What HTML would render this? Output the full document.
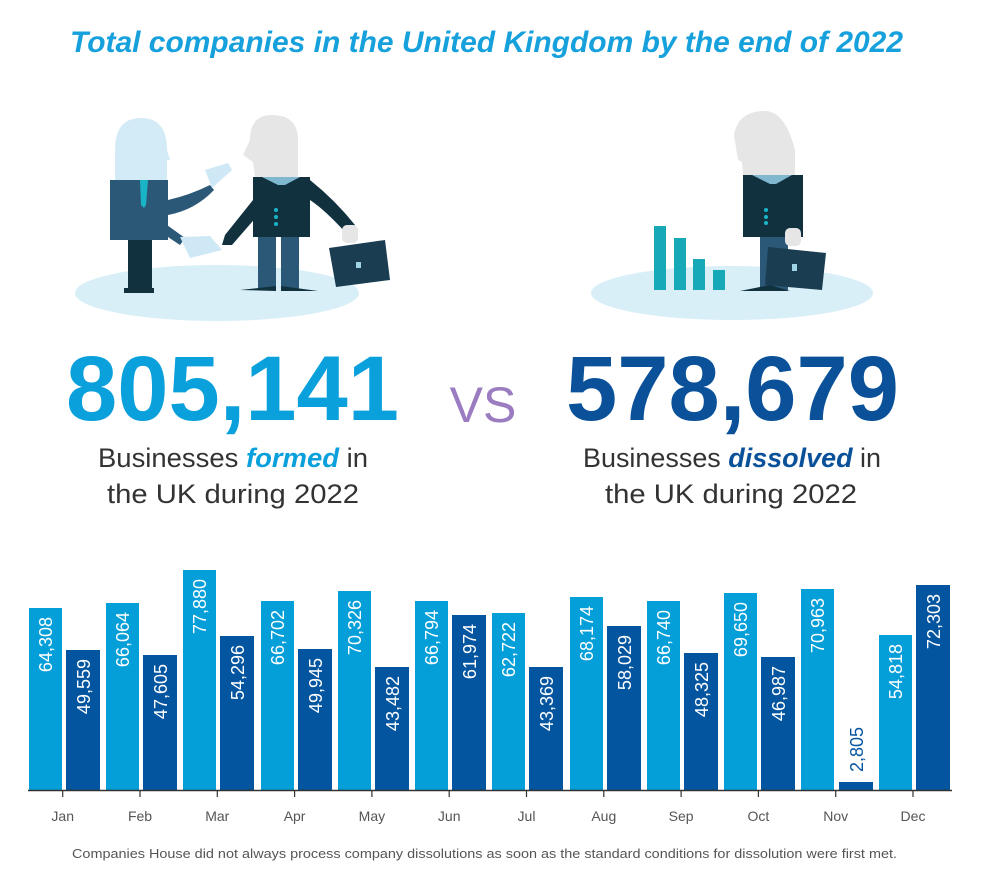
<!DOCTYPE html>
<html><head><meta charset="utf-8"><style>
html,body{margin:0;padding:0;background:#fff;width:988px;height:873px;overflow:hidden}
svg{display:block}
</style></head><body>
<svg width="988" height="873" viewBox="0 0 988 873" xmlns="http://www.w3.org/2000/svg" font-family="Liberation Sans, sans-serif">
<text x="70" y="52" font-size="30" font-weight="bold" font-style="italic" fill="#16a0dc" textLength="833" lengthAdjust="spacingAndGlyphs">Total companies in the United Kingdom by the end of 2022</text>

<!-- left illustration -->
<ellipse cx="217" cy="293" rx="142" ry="28" fill="#d9eff8"/>
<rect x="128" y="238" width="24" height="54" fill="#11313f"/>
<rect x="124" y="288" width="30" height="5" fill="#11313f"/>
<path d="M115 150 Q115 118 141 118 Q167 118 167 150 L170 160 L167 160 L167 180 L115 180 Z" fill="#d3ebf7"/>
<path d="M110 180 L168 180 L168 200 Q190 195 210 185 L214 190 Q195 210 168 215 L168 240 L110 240 Z" fill="#2b5876"/>
<path d="M140 180 L148 180 L146 205 L144 208 L141 205 Z" fill="#19b5c6"/>
<path d="M150 225 L180 245 L185 238 L160 220 Z" fill="#2b5876"/>
<path d="M205 170 L228 163 L232 170 L212 188 Z" fill="#cfe8f6"/>
<path d="M180 237 L210 236 L222 250 L190 258 Z" fill="#cfe8f6"/>
<path d="M243 155 L250 140 Q250 115 272 115 Q298 115 298 140 L298 178 L255 178 L253 162 Z" fill="#e6e6e6"/>
<rect x="253" y="177" width="57" height="60" fill="#12313f"/>
<path d="M262 177 L300 177 L285 185 L278 185 Z" fill="#7fb8cf"/>
<circle cx="276" cy="210" r="2" fill="#19b5c6"/><circle cx="276" cy="217" r="2" fill="#19b5c6"/><circle cx="276" cy="224" r="2" fill="#19b5c6"/>
<path d="M253 200 L225 235 L222 245 L232 245 L258 215 Z" fill="#12313f"/>
<path d="M310 180 Q335 200 355 225 L345 232 Q325 210 310 200 Z" fill="#12313f"/>
<rect x="258" y="237" width="18" height="52" fill="#2b5876"/>
<rect x="281" y="237" width="18" height="52" fill="#2b5876"/>
<path d="M240 290 L276 286 L276 291 Z" fill="#12313f"/><path d="M281 286 L318 291 L281 291 Z" fill="#12313f"/>
<rect x="342" y="225" width="16" height="18" rx="5" fill="#e6e6e6"/>
<path d="M329 248 L385 240 L390 280 L336 287 Z" fill="#1a3d52"/>
<rect x="356" y="262" width="5" height="6" fill="#9fd3e6"/>

<!-- right illustration -->
<ellipse cx="732" cy="293" rx="141" ry="27" fill="#d9eff8"/>
<rect x="654" y="226" width="12" height="64" fill="#17a9b8"/>
<rect x="674" y="238" width="12" height="52" fill="#17a9b8"/>
<rect x="693" y="259" width="12" height="31" fill="#17a9b8"/>
<rect x="713" y="270" width="12" height="20" fill="#17a9b8"/>
<path d="M738 160 L734 135 Q738 111 765 111 Q785 111 795 150 L795 175 L743 175 L742 162 Z" fill="#e6e6e6"/>
<rect x="743" y="175" width="60" height="62" fill="#12313f"/>
<path d="M752 175 L792 175 L776 184 L770 184 Z" fill="#7fb8cf"/>
<circle cx="766" cy="210" r="2" fill="#19b5c6"/><circle cx="766" cy="217" r="2" fill="#19b5c6"/><circle cx="766" cy="223" r="2" fill="#19b5c6"/>
<rect x="760" y="237" width="28" height="53" fill="#2b5876"/>
<path d="M740 291 L770 285 L790 291 Z" fill="#12313f"/>
<rect x="785" y="228" width="16" height="18" rx="5" fill="#e6e6e6"/>
<path d="M768 247 L826 253 L822 290 L765 285 Z" fill="#1a3d52"/>
<rect x="792" y="264" width="5" height="7" fill="#9fd3e6"/>

<!-- big numbers -->
<text x="66" y="420" font-size="92" font-weight="bold" fill="#0aa0dc" textLength="333" lengthAdjust="spacingAndGlyphs">805,141</text>
<text x="483" y="422" text-anchor="middle" font-size="50" fill="#9b7cc0">VS</text>
<text x="566" y="420" font-size="92" font-weight="bold" fill="#0a5199" textLength="333" lengthAdjust="spacingAndGlyphs">578,679</text>
<text x="98" y="467" font-size="27" fill="#333" textLength="270" lengthAdjust="spacingAndGlyphs">Businesses <tspan fill="#0aa0dc" font-weight="bold" font-style="italic">formed</tspan> in</text>
<text x="107" y="503" font-size="27" fill="#333" textLength="252" lengthAdjust="spacingAndGlyphs">the UK during 2022</text>
<text x="583" y="467" font-size="27" fill="#333" textLength="298" lengthAdjust="spacingAndGlyphs">Businesses <tspan fill="#0a5199" font-weight="bold" font-style="italic">dissolved</tspan> in</text>
<text x="605" y="503" font-size="27" fill="#333" textLength="252" lengthAdjust="spacingAndGlyphs">the UK during 2022</text>

<!-- bars -->
<g>
<rect x="29" y="608" width="33" height="182" fill="#049fd9"/><rect x="66" y="650" width="34" height="140" fill="#0455a0"/>
<rect x="106" y="603" width="33" height="187" fill="#049fd9"/><rect x="143" y="655" width="34" height="135" fill="#0455a0"/>
<rect x="183" y="570" width="33" height="220" fill="#049fd9"/><rect x="220" y="636" width="34" height="154" fill="#0455a0"/>
<rect x="261" y="601" width="33" height="189" fill="#049fd9"/><rect x="298" y="649" width="34" height="141" fill="#0455a0"/>
<rect x="338" y="591" width="33" height="199" fill="#049fd9"/><rect x="375" y="667" width="34" height="123" fill="#0455a0"/>
<rect x="415" y="601" width="33" height="189" fill="#049fd9"/><rect x="452" y="615" width="34" height="175" fill="#0455a0"/>
<rect x="492" y="613" width="33" height="177" fill="#049fd9"/><rect x="529" y="667" width="34" height="123" fill="#0455a0"/>
<rect x="570" y="597" width="33" height="193" fill="#049fd9"/><rect x="607" y="626" width="34" height="164" fill="#0455a0"/>
<rect x="647" y="601" width="33" height="189" fill="#049fd9"/><rect x="684" y="653" width="34" height="137" fill="#0455a0"/>
<rect x="724" y="593" width="33" height="197" fill="#049fd9"/><rect x="761" y="657" width="34" height="133" fill="#0455a0"/>
<rect x="801" y="589" width="33" height="201" fill="#049fd9"/><rect x="839" y="782" width="34" height="8" fill="#0455a0"/>
<rect x="879" y="635" width="33" height="155" fill="#049fd9"/><rect x="916" y="585" width="34" height="205" fill="#0455a0"/>
</g>
<g font-size="18" fill="#fff" text-anchor="end">
<text transform="translate(52,617) rotate(-90)">64,308</text>
<text transform="translate(90,659) rotate(-90)">49,559</text>
<text transform="translate(129,612) rotate(-90)">66,064</text>
<text transform="translate(167,664) rotate(-90)">47,605</text>
<text transform="translate(206,579) rotate(-90)">77,880</text>
<text transform="translate(244,645) rotate(-90)">54,296</text>
<text transform="translate(284,610) rotate(-90)">66,702</text>
<text transform="translate(322,658) rotate(-90)">49,945</text>
<text transform="translate(361,600) rotate(-90)">70,326</text>
<text transform="translate(399,676) rotate(-90)">43,482</text>
<text transform="translate(438,610) rotate(-90)">66,794</text>
<text transform="translate(476,624) rotate(-90)">61,974</text>
<text transform="translate(515,622) rotate(-90)">62,722</text>
<text transform="translate(553,676) rotate(-90)">43,369</text>
<text transform="translate(593,606) rotate(-90)">68,174</text>
<text transform="translate(631,635) rotate(-90)">58,029</text>
<text transform="translate(670,610) rotate(-90)">66,740</text>
<text transform="translate(708,662) rotate(-90)">48,325</text>
<text transform="translate(747,602) rotate(-90)">69,650</text>
<text transform="translate(785,666) rotate(-90)">46,987</text>
<text transform="translate(824,598) rotate(-90)">70,963</text>
<text transform="translate(863,727) rotate(-90)" fill="#0455a0">2,805</text>
<text transform="translate(902,644) rotate(-90)">54,818</text>
<text transform="translate(940,594) rotate(-90)">72,303</text>
</g>
<line x1="28" y1="790.5" x2="952" y2="790.5" stroke="#333" stroke-width="1.5"/>
<g stroke="#333" stroke-width="1.2">
<line x1="62.7" y1="790" x2="62.7" y2="797"/><line x1="140" y1="790" x2="140" y2="797"/><line x1="217.3" y1="790" x2="217.3" y2="797"/><line x1="294.6" y1="790" x2="294.6" y2="797"/><line x1="371.9" y1="790" x2="371.9" y2="797"/><line x1="449.2" y1="790" x2="449.2" y2="797"/><line x1="526.5" y1="790" x2="526.5" y2="797"/><line x1="603.8" y1="790" x2="603.8" y2="797"/><line x1="681.1" y1="790" x2="681.1" y2="797"/><line x1="758.4" y1="790" x2="758.4" y2="797"/><line x1="835.7" y1="790" x2="835.7" y2="797"/><line x1="913" y1="790" x2="913" y2="797"/>
</g>
<g font-size="14" fill="#555" text-anchor="middle">
<text x="62.7" y="821">Jan</text><text x="140" y="821">Feb</text><text x="217.3" y="821">Mar</text><text x="294.6" y="821">Apr</text><text x="371.9" y="821">May</text><text x="449.2" y="821">Jun</text><text x="526.5" y="821">Jul</text><text x="603.8" y="821">Aug</text><text x="681.1" y="821">Sep</text><text x="758.4" y="821">Oct</text><text x="835.7" y="821">Nov</text><text x="913" y="821">Dec</text>
</g>
<text x="72" y="858" font-size="13" fill="#555" textLength="825" lengthAdjust="spacingAndGlyphs">Companies House did not always process company dissolutions as soon as the standard conditions for dissolution were first met.</text>
</svg>
</body></html>
